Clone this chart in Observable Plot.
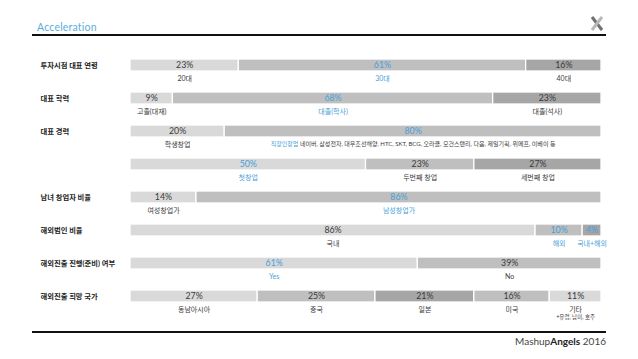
<!DOCTYPE html>
<html>
<head>
<meta charset="utf-8">
<script src="https://cdn.jsdelivr.net/npm/d3@7"></script>
<script src="https://cdn.jsdelivr.net/npm/@observablehq/plot@0.6"></script>
<style>
  html, body { margin: 0; padding: 0; background: #fff; }
  #wrap { position: relative; width: 638px; height: 359px; overflow: hidden; font-family: Lato, "Noto Sans CJK KR", sans-serif; }
  #title { position: absolute; left: 37px; top: 21px; font-size: 10.5px; color: #5aaedc; letter-spacing: 0.2px; }
  .rule { position: absolute; left: 32px; width: 574px; height: 1.5px; background: #111; }
  #footer { position: absolute; right: 32px; top: 335px; font-size: 10px; color: #444; }
  #footer b { font-weight: 700; color: #222; }
  #logo { position: absolute; left: 589px; top: 15px; }
  #chart { position: absolute; left: 0; top: 0; }
</style>
</head>
<body>
<div id="wrap">
  <div id="title">Acceleration</div>
  <div class="rule" style="top:34px"></div>
  <div class="rule" style="top:331px"></div>
  <svg id="logo" width="16" height="17" viewBox="0 0 16 17">
    <line x1="3" y1="2" x2="13" y2="15" stroke="#707070" stroke-width="3" stroke-linecap="butt"/>
    <line x1="13" y1="2" x2="3" y2="15" stroke="#b8b8b8" stroke-width="3" stroke-linecap="butt"/>
  </svg>
  <div id="footer">Mashup<b>Angels</b> 2016</div>
  <div id="chart"></div>
</div>
<script>
// ---- data ----
const rowNames = ["투자시점 대표 연령", "대표 학력", "대표 경력", "", "남녀 창업자 비율", "해외법인 비율", "해외진출 진행(준비) 여부", "해외진출 희망 국가"];
const segValues = [[23, 61, 16], [9, 68, 23], [20, 80], [50, 23, 27], [14, 86], [86, 10, 4], [61, 39], [27, 25, 21, 16, 11]];
const segLabels = [
  ["20대", "30대", "40대"],
  ["고졸(대재)", "대졸(학사)", "대졸(석사)"],
  ["학생창업", "직장인창업 네이버, 삼성전자, 대우조선해양, HTC, SKT, BCG, 오라클, 모건스탠리, 다음, 제일기획, 위메프, 이베이 등"],
  ["첫창업", "두번째 창업", "세번째 창업"],
  ["여성창업가", "남성창업가"],
  ["국내", "해외", "국내+해외"],
  ["Yes", "No"],
  ["동남아시아", "중국", "일본", "미국", "기타"]
];
const segNotes = [[], [], [], [], [], [], [], ["", "", "", "", "+유럽, 남미, 호주"]];
const segTones = [[1, 2, 3], [1, 2, 3], [1, 2], [1, 2, 3], [1, 2], [1, 2, 3], [1, 2], [1, 2, 3, 2, 1]];
const segHighlight = [[0, 1, 0], [0, 1, 0], [0, 1], [1, 0, 0], [0, 1], [0, 1, 1], [1, 0], [0, 0, 0, 0, 0]];

// ---- styling ----
const BLUE = "#4a9fd8";
const DARK = "#3a3a3a";
const toneColor = {1: "#d9d9d9", 2: "#bfbfbf", 3: "#a6a6a6"};

const rowKeys = rowNames.map((n, i) => "r" + i);
const rows = rowNames.map((n, i) => ({key: rowKeys[i], name: n}));
const data = rowKeys.flatMap((k, i) => segValues[i].map((v, j) => ({
  row: k, value: v, label: segLabels[i][j], note: (segNotes[i][j] || ""),
  tone: segTones[i][j], hi: segHighlight[i][j]
})));

const plot = Plot.plot({
  width: 638,
  height: 359,
  marginLeft: 130,
  marginRight: 37,
  marginTop: 56,
  marginBottom: 54,
  style: {fontFamily: 'Lato, "Noto Sans CJK KR", sans-serif', background: "transparent"},
  x: {domain: [0, 100], axis: null},
  y: {type: "band", domain: rowKeys, range: [56, 305], paddingInner: 0.646, paddingOuter: 0, axis: null},
  color: {type: "identity"},
  marks: [
    Plot.barX(data, Plot.stackX({x: "value", y: "row", fill: d => toneColor[d.tone], stroke: "white", strokeWidth: 1.3})),
    Plot.text(data, Plot.stackX({x: "value", y: "row", text: d => d.value + "%", fill: d => d.hi ? BLUE : DARK, fontSize: 8.8})),
    Plot.text(data, Plot.stackX({x: "value", y: "row", text: "label", fill: d => d.hi ? BLUE : DARK, fontSize: d => d.label.length > 30 ? 6 : 7, dy: 13})),
    Plot.text(data, Plot.stackX({x: "value", y: "row", text: "note", fill: DARK, fontSize: 5.5, dy: 21})),
    Plot.text(rows, {y: "key", text: "name", frameAnchor: "left", dx: -90, textAnchor: "start", fill: "#222", fontWeight: "bold", fontSize: 7.3})
  ]
});

// color only the leading word of the long career label
plot.querySelectorAll("text").forEach(t => {
  const s = t.textContent;
  if (s.startsWith("직장인창업 ")) {
    const ns = "http://www.w3.org/2000/svg";
    t.textContent = "";
    const a = document.createElementNS(ns, "tspan");
    a.textContent = "직장인창업";
    a.setAttribute("fill", BLUE);
    const b = document.createElementNS(ns, "tspan");
    b.textContent = s.slice(5);
    b.setAttribute("fill", DARK);
    t.append(a, b);
  }
});

document.getElementById("chart").append(plot);
</script>
</body>
</html>
